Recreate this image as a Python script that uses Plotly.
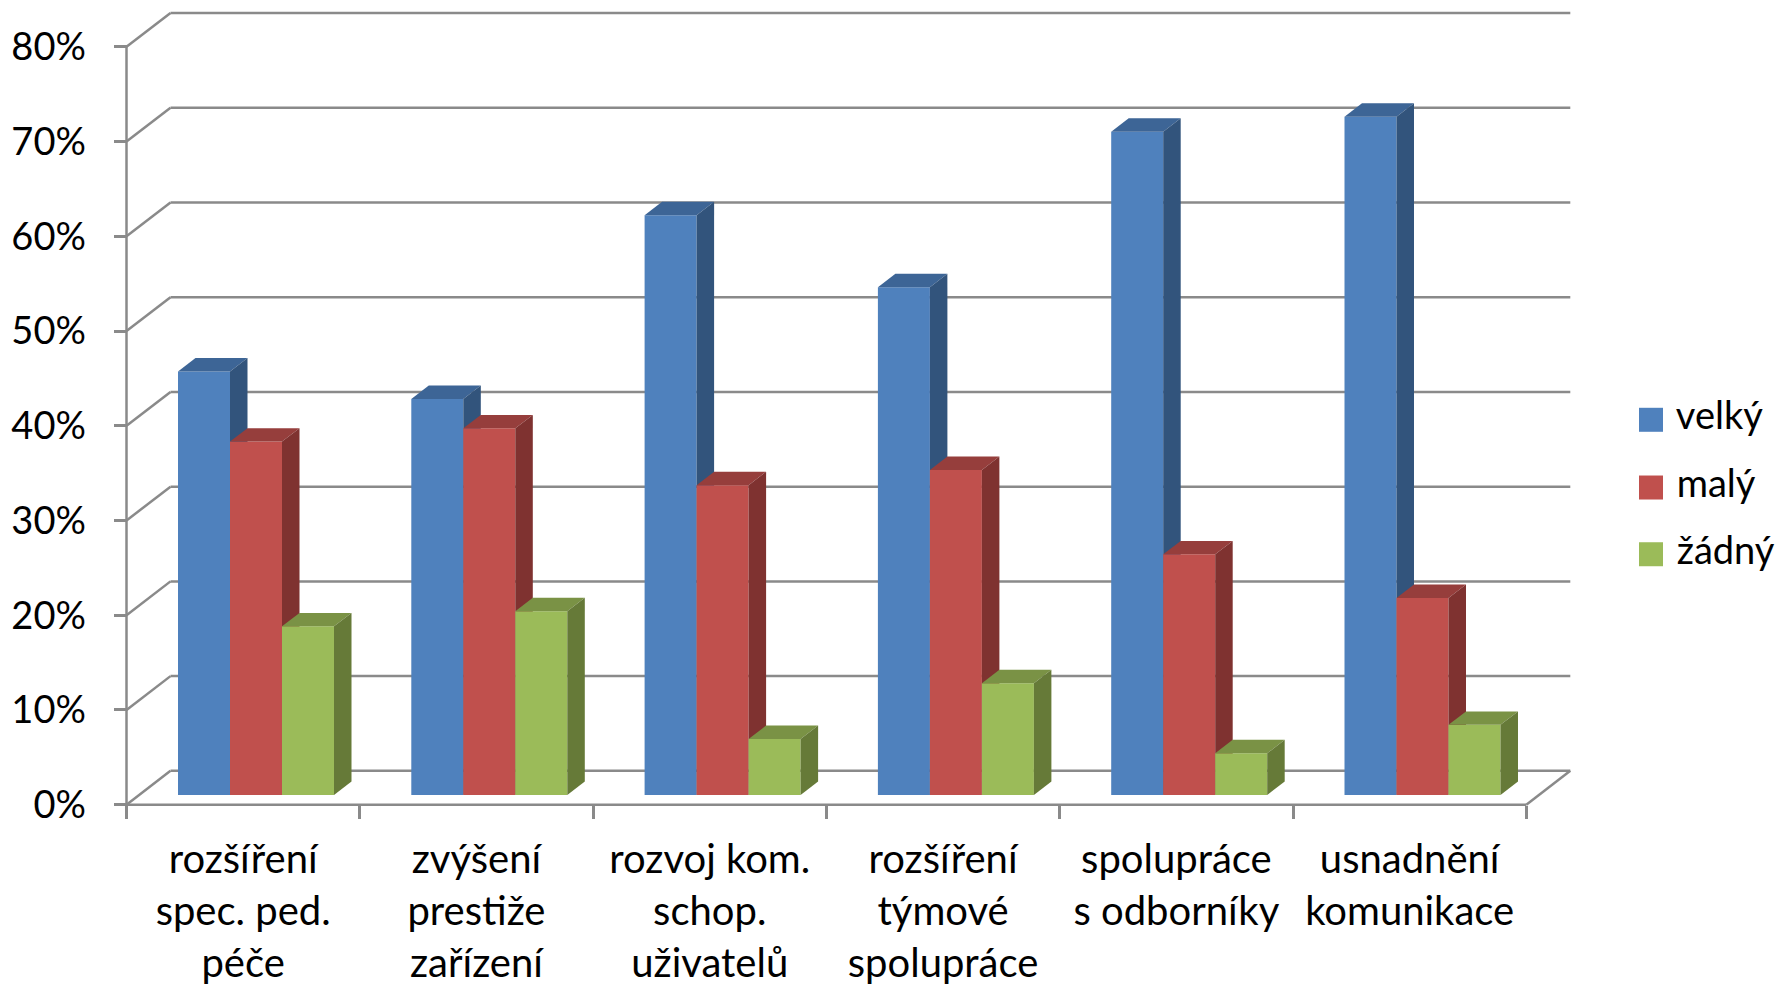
import plotly.graph_objects as go

categories = ["rozšíření<br>spec. ped.<br>péče", "zvýšení<br>prestiže<br>zařízení",
              "rozvoj kom.<br>schop.<br>uživatelů", "rozšíření<br>týmové<br>spolupráce",
              "spolupráce<br>s odborníky", "usnadnění<br>komunikace"]
series_names = ["velký", "malý", "žádný"]
velky = [44.7, 41.8, 61.2, 53.6, 70.0, 71.6]
maly = [37.3, 38.7, 32.7, 34.3, 25.4, 20.8]
zadny = [17.8, 19.4, 5.9, 11.8, 4.4, 7.4]
y_ticks = [0, 10, 20, 30, 40, 50, 60, 70, 80]
y_labels = [f"{v}%" for v in y_ticks]

W, H = 1779, 986
X0, Y0 = 126.5, 808.0          # pixel position of the axis origin
PX_X, PX_Y = 233.3, 9.5125     # pixels per category / per percent
FONT = "Lato"
GRID = "#8a8a8a"

front = ["#4F81BD", "#C0504D", "#9BBB59"]
top = ["#3D6596", "#963E3C", "#7A9245"]
side = ["#32547C", "#7F3230", "#667A38"]

WALL_DX, WALL_DY = 44 / PX_X, 34 / PX_Y
BAR_DX, BAR_DY = 17.5 / PX_X, 13.5 / PX_Y
BASE = 9.8 / PX_Y
GROUP_LEFT = 51.5 / PX_X
BAR_W = 52 / PX_X


def px_x(p):
    return (p - X0) / PX_X


def px_y(p):
    return (Y0 - p) / PX_Y


fig = go.Figure()
values = [velky, maly, zadny]
suffix = ["", "2", "3"]
for k, (name, vals) in enumerate(zip(series_names, values)):
    xa, ya = "x" + suffix[k], "y" + suffix[k]
    lefts = [i + GROUP_LEFT + k * BAR_W for i in range(len(vals))]
    fig.add_trace(go.Bar(
        x=[l + BAR_W / 2 for l in lefts], y=vals, base=BASE, width=BAR_W,
        marker=dict(color=front[k], line=dict(width=0)), name=name,
        xaxis=xa, yaxis=ya, showlegend=False, hoverinfo="skip"))
    for l, v in zip(lefts, vals):
        t = v + BASE
        r = l + BAR_W
        fig.add_trace(go.Scatter(
            x=[l, r, r + BAR_DX, l + BAR_DX, l], y=[t, t, t + BAR_DY, t + BAR_DY, t],
            fill="toself", fillcolor=top[k], mode="lines", line=dict(width=0),
            xaxis=xa, yaxis=ya, showlegend=False, hoverinfo="skip"))
        fig.add_trace(go.Scatter(
            x=[r, r + BAR_DX, r + BAR_DX, r, r],
            y=[BASE, BASE + BAR_DY, t + BAR_DY, t, BASE],
            fill="toself", fillcolor=side[k], mode="lines", line=dict(width=0),
            xaxis=xa, yaxis=ya, showlegend=False, hoverinfo="skip"))

# legend keys
legend_y = [421.5, 489.5, 556.5]
for k, name in enumerate(series_names):
    fig.add_trace(go.Scatter(
        x=[px_x(1651)], y=[px_y(legend_y[k])], mode="markers+text",
        marker=dict(symbol="square", size=24, color=front[k]),
        text=[" " + name], textposition="middle right",
        textfont=dict(family=FONT, size=38, color="black"),
        name=name, xaxis="x3", yaxis="y3", showlegend=False, hoverinfo="skip"))

n = len(categories)
shapes = []


def seg(x0, y0, x1, y1):
    shapes.append(dict(type="line", xref="x", yref="y", x0=x0, y0=y0, x1=x1, y1=y1,
                       layer="below", line=dict(color=GRID, width=2.5)))


for v in y_ticks:
    seg(0, v, WALL_DX, v + WALL_DY)
    seg(WALL_DX, v + WALL_DY, n + WALL_DX, v + WALL_DY)
seg(0, 0, 0, y_ticks[-1])
seg(0, 0, n, 0)
seg(n, 0, n + WALL_DX, WALL_DY)

x_range = [px_x(0), px_x(W)]
y_range = [px_y(H), px_y(0)]
hidden = dict(visible=False, showgrid=False, zeroline=False)

fig.update_layout(
    width=W, height=H, margin=dict(l=0, r=0, t=0, b=0),
    paper_bgcolor="white", plot_bgcolor="white", barmode="overlay",
    showlegend=False, shapes=shapes, font=dict(family=FONT, color="black"),
    xaxis=dict(domain=[0, 1], range=x_range, anchor="free", position=(H - Y0) / H,
               tickmode="array", tickvals=[i + 0.5 for i in range(n)], ticktext=categories,
               tickfont=dict(family=FONT, size=40, color="black"), ticks="", tickangle=0,
               ticklabelstandoff=27, showgrid=False, zeroline=False, showline=False,
               minor=dict(tickmode="array", tickvals=list(range(n + 1)), ticks="outside",
                          ticklen=13, tickwidth=2.5, tickcolor=GRID, showgrid=False)),
    yaxis=dict(domain=[0, 1], range=y_range, anchor="free", position=X0 / W,
               tickmode="array", tickvals=y_ticks, ticktext=y_labels,
               tickfont=dict(family=FONT, size=38, color="black"), ticks="outside",
               ticklen=13, tickwidth=2.5, tickcolor=GRID, ticklabelstandoff=20,
               showgrid=False, zeroline=False, showline=False),
    xaxis2=dict(overlaying="x", range=x_range, **hidden),
    yaxis2=dict(overlaying="y", range=y_range, **hidden),
    xaxis3=dict(overlaying="x", range=x_range, **hidden),
    yaxis3=dict(overlaying="y", range=y_range, **hidden),
)
fig.write_html("out.html", config={"displayModeBar": False},
               post_script="document.body.style.margin='0';document.documentElement.style.overflow='hidden';")
